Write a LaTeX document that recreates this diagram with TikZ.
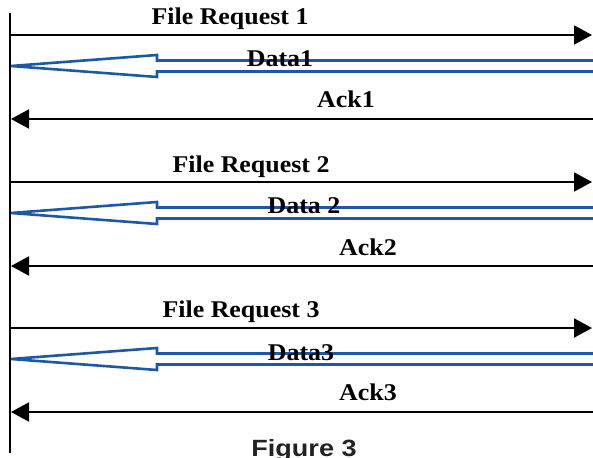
\documentclass[tikz,border=0pt]{standalone}
\usepackage{fontspec}
\setmainfont{Liberation Serif}
\setsansfont{Liberation Sans}
\usetikzlibrary{arrows.meta}
\definecolor{datablue}{RGB}{28,88,166}
\definecolor{capgray}{RGB}{34,34,34}
\tikzset{
  msg/.style={line width=2pt, -{Triangle[length=18pt,width=19pt]}},
  lifeline/.style={line width=2pt},
  databar/.style={draw=datablue, line width=2.6pt, line join=miter},
  lbl/.style={font=\fontsize{24}{27}\selectfont\bfseries, anchor=base,
    inner sep=0pt, transform shape, xscale=1.08},
  caption/.style={font=\sffamily\bfseries\fontsize{23.5}{26}\selectfont,
    text=capgray, anchor=base, inner sep=0pt, transform shape, xscale=1.15}
}
% draws a hollow blue data arrow pointing left, centred on row #1
\newcommand{\dataarrow}[1]{%
  \draw[databar] (593,#1-5.5) -- (157,#1-5.5) -- (157,#1-11) -- (11,#1)
    -- (157,#1+11) -- (157,#1+5.5) -- (593,#1+5.5);}
\begin{document}
\begin{tikzpicture}[x=1pt,y=-1pt]
\useasboundingbox (0,0) rectangle (593,457);

% lifeline
\coordinate (top) at (10,13);
\coordinate (bot) at (10,453);
\draw[lifeline] (top) -- (bot);

% exchange 1
\coordinate (fr1a) at (10,35);  \coordinate (fr1b) at (592,35);
\coordinate (ak1a) at (593,119); \coordinate (ak1b) at (11,119);
\draw[msg] (fr1a) -- (fr1b);
\dataarrow{66}
\draw[msg] (ak1a) -- (ak1b);
\node[lbl] (tfr1) at (230,25) {File Request 1};
\node[lbl] (td1) at (280,67) {Data1};
\node[lbl] (tak1) at (346,108) {Ack1};

% exchange 2
\coordinate (fr2a) at (10,182);  \coordinate (fr2b) at (592,182);
\coordinate (ak2a) at (593,266); \coordinate (ak2b) at (11,266);
\draw[msg] (fr2a) -- (fr2b);
\dataarrow{213}
\draw[msg] (ak2a) -- (ak2b);
\node[lbl] (tfr2) at (251,172) {File Request 2};
\node[lbl] (td2) at (304,213) {Data 2};
\node[lbl] (tak2) at (368,255) {Ack2};

% exchange 3
\coordinate (fr3a) at (10,328);  \coordinate (fr3b) at (592,328);
\coordinate (ak3a) at (593,412); \coordinate (ak3b) at (11,412);
\draw[msg] (fr3a) -- (fr3b);
\dataarrow{359}
\draw[msg] (ak3a) -- (ak3b);
\node[lbl] (tfr3) at (241,317) {File Request 3};
\node[lbl] (td3) at (301,360) {Data3};
\node[lbl] (tak3) at (368,400) {Ack3};

\node[caption] (cap) at (304,456) {Figure\ 3};
\end{tikzpicture}
\end{document}
